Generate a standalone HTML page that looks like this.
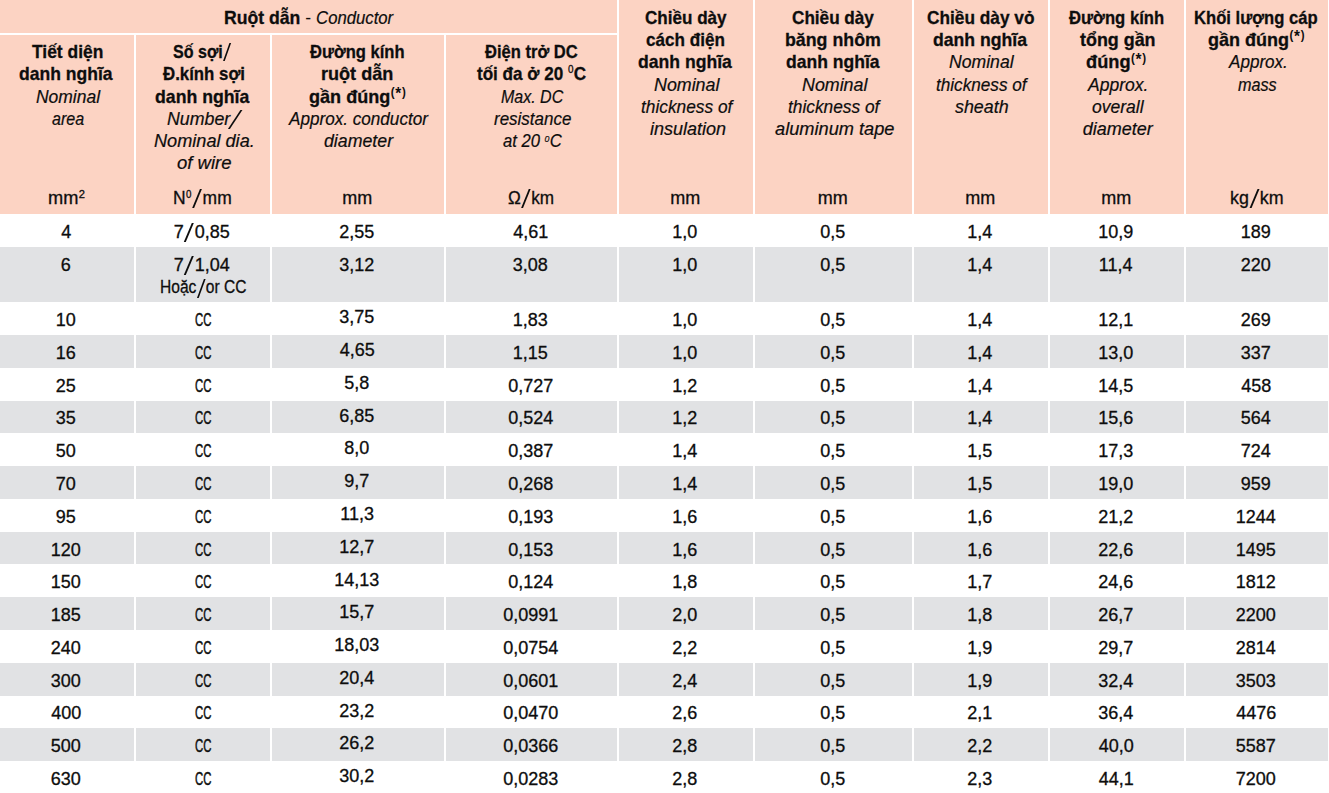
<!DOCTYPE html><html><head><meta charset="utf-8"><style>

html,body{margin:0;padding:0;}
body{font-family:"Liberation Sans",sans-serif;color:#0d0d0d;}
.L{position:absolute;white-space:nowrap;line-height:24px;transform-origin:0 0;}
.sb{font-size:19px;font-weight:bold;-webkit-text-stroke:0.3px currentColor;}
.si{font-size:18px;font-style:italic;-webkit-text-stroke:0.2px currentColor;}
.sr,.sd{font-size:18px;-webkit-text-stroke:0.3px currentColor;}
.sd b{font-weight:normal;-webkit-text-stroke:0.45px currentColor;}
.smix{font-size:19px;}
.smix b{-webkit-text-stroke:0.3px currentColor;}
.smix i{font-size:18px;-webkit-text-stroke:0.2px currentColor;}
sup{line-height:0;vertical-align:0;position:relative;font-weight:normal;font-style:normal;}
.st{font-size:12px;top:-6.5px;letter-spacing:0.8px;margin-left:0.5px;font-weight:bold;-webkit-text-stroke:0;}
.s0{font-size:10px;top:-6.1px;margin:0 0.5px 0 0.5px;}
.sb .s0{font-size:11px;top:-6.9px;margin:0 0.3px 0 0;}
.si .s0{font-size:9.5px;top:-5px;font-style:italic;margin:0 0.3px 0 0;}
.s2{font-size:11px;top:-5.8px;margin-left:0.5px;}
.sl{display:inline-block;position:relative;width:11px;height:0;}
.sl::before{content:"";position:absolute;left:0.6px;bottom:-4.2px;width:1.5px;height:18.5px;background:currentColor;transform-origin:0 100%;transform:skewX(-22.9deg);}
.cc{display:inline-block;font-weight:bold;}
.ss{font-size:16px;position:relative;top:2.9px;letter-spacing:0.8px;}
.slb{display:inline-block;position:relative;width:9px;height:0;}
.slb::before{content:"";position:absolute;left:0.5px;bottom:-3.8px;width:2.2px;height:18.4px;background:currentColor;transform-origin:0 100%;transform:skewX(-22.7deg);}
.sli{display:inline-block;position:relative;width:9px;height:0;}
.sli::before{content:"";position:absolute;left:-1.8px;bottom:-3.8px;width:1.6px;height:18.6px;background:currentColor;transform-origin:0 100%;transform:skewX(-33.7deg);}

body{width:1329px;height:793px;overflow:hidden;background:#fff;position:relative;}
.bg{position:absolute;}
</style></head><body>
<div class="bg" style="left:0;top:0;width:1328px;height:214px;background:#fcd3c3"></div>
<div class="bg" style="left:0;top:33px;width:617px;height:2px;background:#fff"></div>
<div class="bg" style="left:134px;top:33px;width:2px;height:181px;background:#fff"></div>
<div class="bg" style="left:270px;top:33px;width:2px;height:181px;background:#fff"></div>
<div class="bg" style="left:444px;top:33px;width:2px;height:181px;background:#fff"></div>
<div class="bg" style="left:617px;top:0px;width:2px;height:214px;background:#fff"></div>
<div class="bg" style="left:753px;top:0px;width:2px;height:214px;background:#fff"></div>
<div class="bg" style="left:912px;top:0px;width:2px;height:214px;background:#fff"></div>
<div class="bg" style="left:1048px;top:0px;width:2px;height:214px;background:#fff"></div>
<div class="bg" style="left:1184px;top:0px;width:2px;height:214px;background:#fff"></div>
<div class="bg" style="left:0;top:247px;width:1328px;height:55px;background:#e1e2e4"></div>
<div class="bg" style="left:134px;top:247px;width:2px;height:55px;background:#fff"></div>
<div class="bg" style="left:270px;top:247px;width:2px;height:55px;background:#fff"></div>
<div class="bg" style="left:444px;top:247px;width:2px;height:55px;background:#fff"></div>
<div class="bg" style="left:617px;top:247px;width:2px;height:55px;background:#fff"></div>
<div class="bg" style="left:753px;top:247px;width:2px;height:55px;background:#fff"></div>
<div class="bg" style="left:912px;top:247px;width:2px;height:55px;background:#fff"></div>
<div class="bg" style="left:1048px;top:247px;width:2px;height:55px;background:#fff"></div>
<div class="bg" style="left:1184px;top:247px;width:2px;height:55px;background:#fff"></div>
<div class="bg" style="left:0;top:335px;width:1328px;height:33px;background:#e1e2e4"></div>
<div class="bg" style="left:134px;top:335px;width:2px;height:33px;background:#fff"></div>
<div class="bg" style="left:270px;top:335px;width:2px;height:33px;background:#fff"></div>
<div class="bg" style="left:444px;top:335px;width:2px;height:33px;background:#fff"></div>
<div class="bg" style="left:617px;top:335px;width:2px;height:33px;background:#fff"></div>
<div class="bg" style="left:753px;top:335px;width:2px;height:33px;background:#fff"></div>
<div class="bg" style="left:912px;top:335px;width:2px;height:33px;background:#fff"></div>
<div class="bg" style="left:1048px;top:335px;width:2px;height:33px;background:#fff"></div>
<div class="bg" style="left:1184px;top:335px;width:2px;height:33px;background:#fff"></div>
<div class="bg" style="left:0;top:401px;width:1328px;height:32px;background:#e1e2e4"></div>
<div class="bg" style="left:134px;top:401px;width:2px;height:32px;background:#fff"></div>
<div class="bg" style="left:270px;top:401px;width:2px;height:32px;background:#fff"></div>
<div class="bg" style="left:444px;top:401px;width:2px;height:32px;background:#fff"></div>
<div class="bg" style="left:617px;top:401px;width:2px;height:32px;background:#fff"></div>
<div class="bg" style="left:753px;top:401px;width:2px;height:32px;background:#fff"></div>
<div class="bg" style="left:912px;top:401px;width:2px;height:32px;background:#fff"></div>
<div class="bg" style="left:1048px;top:401px;width:2px;height:32px;background:#fff"></div>
<div class="bg" style="left:1184px;top:401px;width:2px;height:32px;background:#fff"></div>
<div class="bg" style="left:0;top:466px;width:1328px;height:33px;background:#e1e2e4"></div>
<div class="bg" style="left:134px;top:466px;width:2px;height:33px;background:#fff"></div>
<div class="bg" style="left:270px;top:466px;width:2px;height:33px;background:#fff"></div>
<div class="bg" style="left:444px;top:466px;width:2px;height:33px;background:#fff"></div>
<div class="bg" style="left:617px;top:466px;width:2px;height:33px;background:#fff"></div>
<div class="bg" style="left:753px;top:466px;width:2px;height:33px;background:#fff"></div>
<div class="bg" style="left:912px;top:466px;width:2px;height:33px;background:#fff"></div>
<div class="bg" style="left:1048px;top:466px;width:2px;height:33px;background:#fff"></div>
<div class="bg" style="left:1184px;top:466px;width:2px;height:33px;background:#fff"></div>
<div class="bg" style="left:0;top:532px;width:1328px;height:32px;background:#e1e2e4"></div>
<div class="bg" style="left:134px;top:532px;width:2px;height:32px;background:#fff"></div>
<div class="bg" style="left:270px;top:532px;width:2px;height:32px;background:#fff"></div>
<div class="bg" style="left:444px;top:532px;width:2px;height:32px;background:#fff"></div>
<div class="bg" style="left:617px;top:532px;width:2px;height:32px;background:#fff"></div>
<div class="bg" style="left:753px;top:532px;width:2px;height:32px;background:#fff"></div>
<div class="bg" style="left:912px;top:532px;width:2px;height:32px;background:#fff"></div>
<div class="bg" style="left:1048px;top:532px;width:2px;height:32px;background:#fff"></div>
<div class="bg" style="left:1184px;top:532px;width:2px;height:32px;background:#fff"></div>
<div class="bg" style="left:0;top:597px;width:1328px;height:33px;background:#e1e2e4"></div>
<div class="bg" style="left:134px;top:597px;width:2px;height:33px;background:#fff"></div>
<div class="bg" style="left:270px;top:597px;width:2px;height:33px;background:#fff"></div>
<div class="bg" style="left:444px;top:597px;width:2px;height:33px;background:#fff"></div>
<div class="bg" style="left:617px;top:597px;width:2px;height:33px;background:#fff"></div>
<div class="bg" style="left:753px;top:597px;width:2px;height:33px;background:#fff"></div>
<div class="bg" style="left:912px;top:597px;width:2px;height:33px;background:#fff"></div>
<div class="bg" style="left:1048px;top:597px;width:2px;height:33px;background:#fff"></div>
<div class="bg" style="left:1184px;top:597px;width:2px;height:33px;background:#fff"></div>
<div class="bg" style="left:0;top:663px;width:1328px;height:33px;background:#e1e2e4"></div>
<div class="bg" style="left:134px;top:663px;width:2px;height:33px;background:#fff"></div>
<div class="bg" style="left:270px;top:663px;width:2px;height:33px;background:#fff"></div>
<div class="bg" style="left:444px;top:663px;width:2px;height:33px;background:#fff"></div>
<div class="bg" style="left:617px;top:663px;width:2px;height:33px;background:#fff"></div>
<div class="bg" style="left:753px;top:663px;width:2px;height:33px;background:#fff"></div>
<div class="bg" style="left:912px;top:663px;width:2px;height:33px;background:#fff"></div>
<div class="bg" style="left:1048px;top:663px;width:2px;height:33px;background:#fff"></div>
<div class="bg" style="left:1184px;top:663px;width:2px;height:33px;background:#fff"></div>
<div class="bg" style="left:0;top:728px;width:1328px;height:33px;background:#e1e2e4"></div>
<div class="bg" style="left:134px;top:728px;width:2px;height:33px;background:#fff"></div>
<div class="bg" style="left:270px;top:728px;width:2px;height:33px;background:#fff"></div>
<div class="bg" style="left:444px;top:728px;width:2px;height:33px;background:#fff"></div>
<div class="bg" style="left:617px;top:728px;width:2px;height:33px;background:#fff"></div>
<div class="bg" style="left:753px;top:728px;width:2px;height:33px;background:#fff"></div>
<div class="bg" style="left:912px;top:728px;width:2px;height:33px;background:#fff"></div>
<div class="bg" style="left:1048px;top:728px;width:2px;height:33px;background:#fff"></div>
<div class="bg" style="left:1184px;top:728px;width:2px;height:33px;background:#fff"></div>
<div class="L smix" style="left:223.87px;top:5.50px;transform:scaleX(0.928);"><b>Ruột dẫn</b> - <i>Conductor</i></div>
<div class="L sb" style="left:31.50px;top:39.90px;transform:scaleX(0.917);">Tiết diện</div>
<div class="L sb" style="left:19.18px;top:62.20px;transform:scaleX(0.923);">danh nghĩa</div>
<div class="L si" style="left:35.90px;top:84.50px;transform:scaleX(0.970);">Nominal</div>
<div class="L si" style="left:51.70px;top:106.80px;transform:scaleX(0.894);">area</div>
<div class="L sb" style="left:173.15px;top:39.90px;transform:scaleX(0.846);">Số sợi<span class="slb"></span></div>
<div class="L sb" style="left:162.50px;top:62.20px;transform:scaleX(0.885);">Đ.kính sợi</div>
<div class="L sb" style="left:154.77px;top:84.50px;transform:scaleX(0.931);">danh nghĩa</div>
<div class="L si" style="left:167.40px;top:106.80px;transform:scaleX(0.987);">Number<span class="sli"></span></div>
<div class="L si" style="left:154.30px;top:129.10px;transform:scaleX(1.007);">Nominal dia.</div>
<div class="L si" style="left:176.60px;top:151.40px;transform:scaleX(1.028);">of wire</div>
<div class="L sb" style="left:310.40px;top:39.90px;transform:scaleX(0.871);">Đường kính</div>
<div class="L sb" style="left:321.35px;top:62.20px;transform:scaleX(0.951);">ruột dẫn</div>
<div class="L sb" style="left:309.45px;top:84.50px;transform:scaleX(0.951);">gần đúng<sup class="st">(<span class="ss">*</span>)</sup></div>
<div class="L si" style="left:289.45px;top:106.80px;transform:scaleX(0.951);">Approx. conductor</div>
<div class="L si" style="left:324.10px;top:129.10px;transform:scaleX(0.986);">diameter</div>
<div class="L sb" style="left:485.30px;top:39.90px;transform:scaleX(0.871);">Điện trở DC</div>
<div class="L sb" style="left:477.10px;top:62.20px;transform:scaleX(0.899);">tối đa ở 20 <sup class="s0">0</sup>C</div>
<div class="L si" style="left:500.80px;top:84.50px;transform:scaleX(0.889);">Max. DC</div>
<div class="L si" style="left:493.90px;top:106.80px;transform:scaleX(0.943);">resistance</div>
<div class="L si" style="left:503.00px;top:129.10px;transform:scaleX(0.923);">at 20 <sup class="s0">0</sup>C</div>
<div class="L sb" style="left:644.60px;top:5.60px;transform:scaleX(0.898);">Chiều dày</div>
<div class="L sb" style="left:646.40px;top:27.90px;transform:scaleX(0.901);">cách điện</div>
<div class="L sb" style="left:638.47px;top:50.20px;transform:scaleX(0.926);">danh nghĩa</div>
<div class="L si" style="left:654.40px;top:72.50px;transform:scaleX(0.991);">Nominal</div>
<div class="L si" style="left:641.24px;top:94.80px;transform:scaleX(0.961);">thickness of</div>
<div class="L si" style="left:650.00px;top:117.10px;">insulation</div>
<div class="L sb" style="left:792.40px;top:5.60px;transform:scaleX(0.902);">Chiều dày</div>
<div class="L sb" style="left:785.06px;top:27.90px;transform:scaleX(0.936);">băng nhôm</div>
<div class="L sb" style="left:785.78px;top:50.20px;transform:scaleX(0.924);">danh nghĩa</div>
<div class="L si" style="left:801.50px;top:72.50px;transform:scaleX(0.991);">Nominal</div>
<div class="L si" style="left:788.44px;top:94.80px;transform:scaleX(0.962);">thickness of</div>
<div class="L si" style="left:775.00px;top:117.10px;transform:scaleX(1.012);">aluminum tape</div>
<div class="L sb" style="left:927.09px;top:5.60px;transform:scaleX(0.909);">Chiều dày vỏ</div>
<div class="L sb" style="left:933.37px;top:27.90px;transform:scaleX(0.928);">danh nghĩa</div>
<div class="L si" style="left:949.00px;top:50.20px;transform:scaleX(0.979);">Nominal</div>
<div class="L si" style="left:935.55px;top:72.50px;transform:scaleX(0.953);">thickness of</div>
<div class="L si" style="left:955.30px;top:94.80px;transform:scaleX(0.991);">sheath</div>
<div class="L sb" style="left:1069.30px;top:5.60px;transform:scaleX(0.877);">Đường kính</div>
<div class="L sb" style="left:1079.60px;top:27.90px;transform:scaleX(0.942);">tổng gần</div>
<div class="L sb" style="left:1086.44px;top:50.20px;transform:scaleX(0.959);">đúng<sup class="st">(<span class="ss">*</span>)</sup></div>
<div class="L si" style="left:1088.37px;top:72.50px;transform:scaleX(0.974);">Approx.</div>
<div class="L si" style="left:1092.00px;top:94.80px;transform:scaleX(0.974);">overall</div>
<div class="L si" style="left:1082.80px;top:117.10px;">diameter</div>
<div class="L sb" style="left:1194.42px;top:5.60px;transform:scaleX(0.875);">Khối lượng cáp</div>
<div class="L sb" style="left:1208.35px;top:27.90px;transform:scaleX(0.947);">gần đúng<sup class="st">(<span class="ss">*</span>)</sup></div>
<div class="L si" style="left:1228.95px;top:50.20px;transform:scaleX(0.949);">Approx.</div>
<div class="L si" style="left:1238.40px;top:72.50px;transform:scaleX(0.900);">mass</div>
<div class="L sr" style="left:48.29px;top:185.80px;transform:scaleX(1.011);">mm<sup class="s2">2</sup></div>
<div class="L sr" style="left:172.93px;top:185.80px;transform:scaleX(0.969);">N<sup class="s0">0</sup><span class="sl"></span>mm</div>
<div class="L sr" style="left:342.30px;top:185.80px;">mm</div>
<div class="L sr" style="left:508.30px;top:185.80px;transform:scaleX(0.952);">Ω<span class="sl"></span>km</div>
<div class="L sr" style="left:670.30px;top:185.80px;">mm</div>
<div class="L sr" style="left:817.80px;top:185.80px;">mm</div>
<div class="L sr" style="left:965.30px;top:185.80px;">mm</div>
<div class="L sr" style="left:1101.30px;top:185.80px;">mm</div>
<div class="L sr" style="left:1229.51px;top:185.80px;transform:scaleX(0.990);">kg<span class="sl"></span>km</div>
<div class="L sd" style="left:61.30px;top:219.60px;">4</div>
<div class="L sd" style="left:173.80px;top:219.60px;">7<span class="sl"></span>0,85</div>
<div class="L sd" style="left:339.30px;top:219.60px;">2,55</div>
<div class="L sd" style="left:513.30px;top:219.60px;">4,61</div>
<div class="L sd" style="left:672.30px;top:219.60px;">1,0</div>
<div class="L sd" style="left:820.30px;top:219.60px;">0,5</div>
<div class="L sd" style="left:967.30px;top:219.60px;">1,4</div>
<div class="L sd" style="left:1098.30px;top:219.60px;">10,9</div>
<div class="L sd" style="left:1240.80px;top:219.60px;">189</div>
<div class="L sd" style="left:60.80px;top:252.60px;">6</div>
<div class="L sd" style="left:173.80px;top:252.60px;">7<span class="sl"></span>1,04</div>
<div class="L sd" style="left:339.30px;top:252.60px;">3,12</div>
<div class="L sd" style="left:512.80px;top:252.60px;">3,08</div>
<div class="L sd" style="left:672.30px;top:252.60px;">1,0</div>
<div class="L sd" style="left:820.30px;top:252.60px;">0,5</div>
<div class="L sd" style="left:967.30px;top:252.60px;">1,4</div>
<div class="L sd" style="left:1098.80px;top:252.60px;">11,4</div>
<div class="L sd" style="left:1240.80px;top:252.60px;">220</div>
<div class="L sd" style="left:55.80px;top:308.10px;">10</div>
<div class="L sd" style="left:194.57px;top:308.10px;transform:scaleX(0.632);"><b>CC</b></div>
<div class="L sd" style="left:339.30px;top:305.30px;">3,75</div>
<div class="L sd" style="left:512.80px;top:308.10px;">1,83</div>
<div class="L sd" style="left:672.30px;top:308.10px;">1,0</div>
<div class="L sd" style="left:820.30px;top:308.10px;">0,5</div>
<div class="L sd" style="left:967.30px;top:308.10px;">1,4</div>
<div class="L sd" style="left:1098.30px;top:308.10px;">12,1</div>
<div class="L sd" style="left:1240.80px;top:308.10px;">269</div>
<div class="L sd" style="left:55.80px;top:340.88px;">16</div>
<div class="L sd" style="left:194.57px;top:340.88px;transform:scaleX(0.632);"><b>CC</b></div>
<div class="L sd" style="left:339.80px;top:338.08px;">4,65</div>
<div class="L sd" style="left:512.80px;top:340.88px;">1,15</div>
<div class="L sd" style="left:672.30px;top:340.88px;">1,0</div>
<div class="L sd" style="left:820.30px;top:340.88px;">0,5</div>
<div class="L sd" style="left:967.30px;top:340.88px;">1,4</div>
<div class="L sd" style="left:1098.30px;top:340.88px;">13,0</div>
<div class="L sd" style="left:1240.80px;top:340.88px;">337</div>
<div class="L sd" style="left:55.80px;top:373.66px;">25</div>
<div class="L sd" style="left:194.57px;top:373.66px;transform:scaleX(0.632);"><b>CC</b></div>
<div class="L sd" style="left:344.30px;top:370.86px;">5,8</div>
<div class="L sd" style="left:508.30px;top:373.66px;">0,727</div>
<div class="L sd" style="left:672.30px;top:373.66px;">1,2</div>
<div class="L sd" style="left:820.30px;top:373.66px;">0,5</div>
<div class="L sd" style="left:967.30px;top:373.66px;">1,4</div>
<div class="L sd" style="left:1098.30px;top:373.66px;">14,5</div>
<div class="L sd" style="left:1241.30px;top:373.66px;">458</div>
<div class="L sd" style="left:55.80px;top:406.44px;">35</div>
<div class="L sd" style="left:194.57px;top:406.44px;transform:scaleX(0.632);"><b>CC</b></div>
<div class="L sd" style="left:339.30px;top:403.64px;">6,85</div>
<div class="L sd" style="left:508.30px;top:406.44px;">0,524</div>
<div class="L sd" style="left:672.30px;top:406.44px;">1,2</div>
<div class="L sd" style="left:820.30px;top:406.44px;">0,5</div>
<div class="L sd" style="left:967.30px;top:406.44px;">1,4</div>
<div class="L sd" style="left:1098.30px;top:406.44px;">15,6</div>
<div class="L sd" style="left:1240.80px;top:406.44px;">564</div>
<div class="L sd" style="left:55.80px;top:439.22px;">50</div>
<div class="L sd" style="left:194.57px;top:439.22px;transform:scaleX(0.632);"><b>CC</b></div>
<div class="L sd" style="left:344.30px;top:436.42px;">8,0</div>
<div class="L sd" style="left:508.30px;top:439.22px;">0,387</div>
<div class="L sd" style="left:672.30px;top:439.22px;">1,4</div>
<div class="L sd" style="left:820.30px;top:439.22px;">0,5</div>
<div class="L sd" style="left:967.30px;top:439.22px;">1,5</div>
<div class="L sd" style="left:1098.30px;top:439.22px;">17,3</div>
<div class="L sd" style="left:1240.80px;top:439.22px;">724</div>
<div class="L sd" style="left:55.80px;top:472.00px;">70</div>
<div class="L sd" style="left:194.57px;top:472.00px;transform:scaleX(0.632);"><b>CC</b></div>
<div class="L sd" style="left:344.30px;top:469.20px;">9,7</div>
<div class="L sd" style="left:508.30px;top:472.00px;">0,268</div>
<div class="L sd" style="left:672.30px;top:472.00px;">1,4</div>
<div class="L sd" style="left:820.30px;top:472.00px;">0,5</div>
<div class="L sd" style="left:967.30px;top:472.00px;">1,5</div>
<div class="L sd" style="left:1098.30px;top:472.00px;">19,0</div>
<div class="L sd" style="left:1240.80px;top:472.00px;">959</div>
<div class="L sd" style="left:55.80px;top:504.78px;">95</div>
<div class="L sd" style="left:194.57px;top:504.78px;transform:scaleX(0.632);"><b>CC</b></div>
<div class="L sd" style="left:340.30px;top:501.98px;">11,3</div>
<div class="L sd" style="left:508.30px;top:504.78px;">0,193</div>
<div class="L sd" style="left:672.30px;top:504.78px;">1,6</div>
<div class="L sd" style="left:820.30px;top:504.78px;">0,5</div>
<div class="L sd" style="left:967.30px;top:504.78px;">1,6</div>
<div class="L sd" style="left:1098.30px;top:504.78px;">21,2</div>
<div class="L sd" style="left:1235.80px;top:504.78px;">1244</div>
<div class="L sd" style="left:50.80px;top:537.56px;">120</div>
<div class="L sd" style="left:194.57px;top:537.56px;transform:scaleX(0.632);"><b>CC</b></div>
<div class="L sd" style="left:339.30px;top:534.76px;">12,7</div>
<div class="L sd" style="left:508.30px;top:537.56px;">0,153</div>
<div class="L sd" style="left:672.30px;top:537.56px;">1,6</div>
<div class="L sd" style="left:820.30px;top:537.56px;">0,5</div>
<div class="L sd" style="left:967.30px;top:537.56px;">1,6</div>
<div class="L sd" style="left:1098.30px;top:537.56px;">22,6</div>
<div class="L sd" style="left:1235.80px;top:537.56px;">1495</div>
<div class="L sd" style="left:50.80px;top:570.34px;">150</div>
<div class="L sd" style="left:194.57px;top:570.34px;transform:scaleX(0.632);"><b>CC</b></div>
<div class="L sd" style="left:334.30px;top:567.54px;">14,13</div>
<div class="L sd" style="left:508.30px;top:570.34px;">0,124</div>
<div class="L sd" style="left:672.30px;top:570.34px;">1,8</div>
<div class="L sd" style="left:820.30px;top:570.34px;">0,5</div>
<div class="L sd" style="left:967.30px;top:570.34px;">1,7</div>
<div class="L sd" style="left:1098.30px;top:570.34px;">24,6</div>
<div class="L sd" style="left:1235.80px;top:570.34px;">1812</div>
<div class="L sd" style="left:50.80px;top:603.12px;">185</div>
<div class="L sd" style="left:194.57px;top:603.12px;transform:scaleX(0.632);"><b>CC</b></div>
<div class="L sd" style="left:339.30px;top:600.32px;">15,7</div>
<div class="L sd" style="left:503.30px;top:603.12px;">0,0991</div>
<div class="L sd" style="left:672.30px;top:603.12px;">2,0</div>
<div class="L sd" style="left:820.30px;top:603.12px;">0,5</div>
<div class="L sd" style="left:967.30px;top:603.12px;">1,8</div>
<div class="L sd" style="left:1098.30px;top:603.12px;">26,7</div>
<div class="L sd" style="left:1235.80px;top:603.12px;">2200</div>
<div class="L sd" style="left:50.80px;top:635.90px;">240</div>
<div class="L sd" style="left:194.57px;top:635.90px;transform:scaleX(0.632);"><b>CC</b></div>
<div class="L sd" style="left:334.30px;top:633.10px;">18,03</div>
<div class="L sd" style="left:503.30px;top:635.90px;">0,0754</div>
<div class="L sd" style="left:672.30px;top:635.90px;">2,2</div>
<div class="L sd" style="left:820.30px;top:635.90px;">0,5</div>
<div class="L sd" style="left:967.30px;top:635.90px;">1,9</div>
<div class="L sd" style="left:1098.30px;top:635.90px;">29,7</div>
<div class="L sd" style="left:1235.80px;top:635.90px;">2814</div>
<div class="L sd" style="left:50.80px;top:668.68px;">300</div>
<div class="L sd" style="left:194.57px;top:668.68px;transform:scaleX(0.632);"><b>CC</b></div>
<div class="L sd" style="left:339.30px;top:665.88px;">20,4</div>
<div class="L sd" style="left:503.30px;top:668.68px;">0,0601</div>
<div class="L sd" style="left:672.30px;top:668.68px;">2,4</div>
<div class="L sd" style="left:820.30px;top:668.68px;">0,5</div>
<div class="L sd" style="left:967.30px;top:668.68px;">1,9</div>
<div class="L sd" style="left:1098.30px;top:668.68px;">32,4</div>
<div class="L sd" style="left:1235.80px;top:668.68px;">3503</div>
<div class="L sd" style="left:51.30px;top:701.46px;">400</div>
<div class="L sd" style="left:194.57px;top:701.46px;transform:scaleX(0.632);"><b>CC</b></div>
<div class="L sd" style="left:339.30px;top:698.66px;">23,2</div>
<div class="L sd" style="left:503.30px;top:701.46px;">0,0470</div>
<div class="L sd" style="left:672.30px;top:701.46px;">2,6</div>
<div class="L sd" style="left:820.30px;top:701.46px;">0,5</div>
<div class="L sd" style="left:967.30px;top:701.46px;">2,1</div>
<div class="L sd" style="left:1098.30px;top:701.46px;">36,4</div>
<div class="L sd" style="left:1236.30px;top:701.46px;">4476</div>
<div class="L sd" style="left:50.80px;top:734.24px;">500</div>
<div class="L sd" style="left:194.57px;top:734.24px;transform:scaleX(0.632);"><b>CC</b></div>
<div class="L sd" style="left:339.30px;top:731.44px;">26,2</div>
<div class="L sd" style="left:503.30px;top:734.24px;">0,0366</div>
<div class="L sd" style="left:672.30px;top:734.24px;">2,8</div>
<div class="L sd" style="left:820.30px;top:734.24px;">0,5</div>
<div class="L sd" style="left:967.30px;top:734.24px;">2,2</div>
<div class="L sd" style="left:1098.80px;top:734.24px;">40,0</div>
<div class="L sd" style="left:1235.80px;top:734.24px;">5587</div>
<div class="L sd" style="left:50.80px;top:767.02px;">630</div>
<div class="L sd" style="left:194.57px;top:767.02px;transform:scaleX(0.632);"><b>CC</b></div>
<div class="L sd" style="left:339.30px;top:764.22px;">30,2</div>
<div class="L sd" style="left:503.30px;top:767.02px;">0,0283</div>
<div class="L sd" style="left:672.30px;top:767.02px;">2,8</div>
<div class="L sd" style="left:820.30px;top:767.02px;">0,5</div>
<div class="L sd" style="left:967.30px;top:767.02px;">2,3</div>
<div class="L sd" style="left:1098.80px;top:767.02px;">44,1</div>
<div class="L sd" style="left:1235.80px;top:767.02px;">7200</div>
<div class="L sd" style="left:159.54px;top:275.00px;transform:scaleX(0.864);">Hoặc<span class="sl"></span>or CC</div>
</body></html>
